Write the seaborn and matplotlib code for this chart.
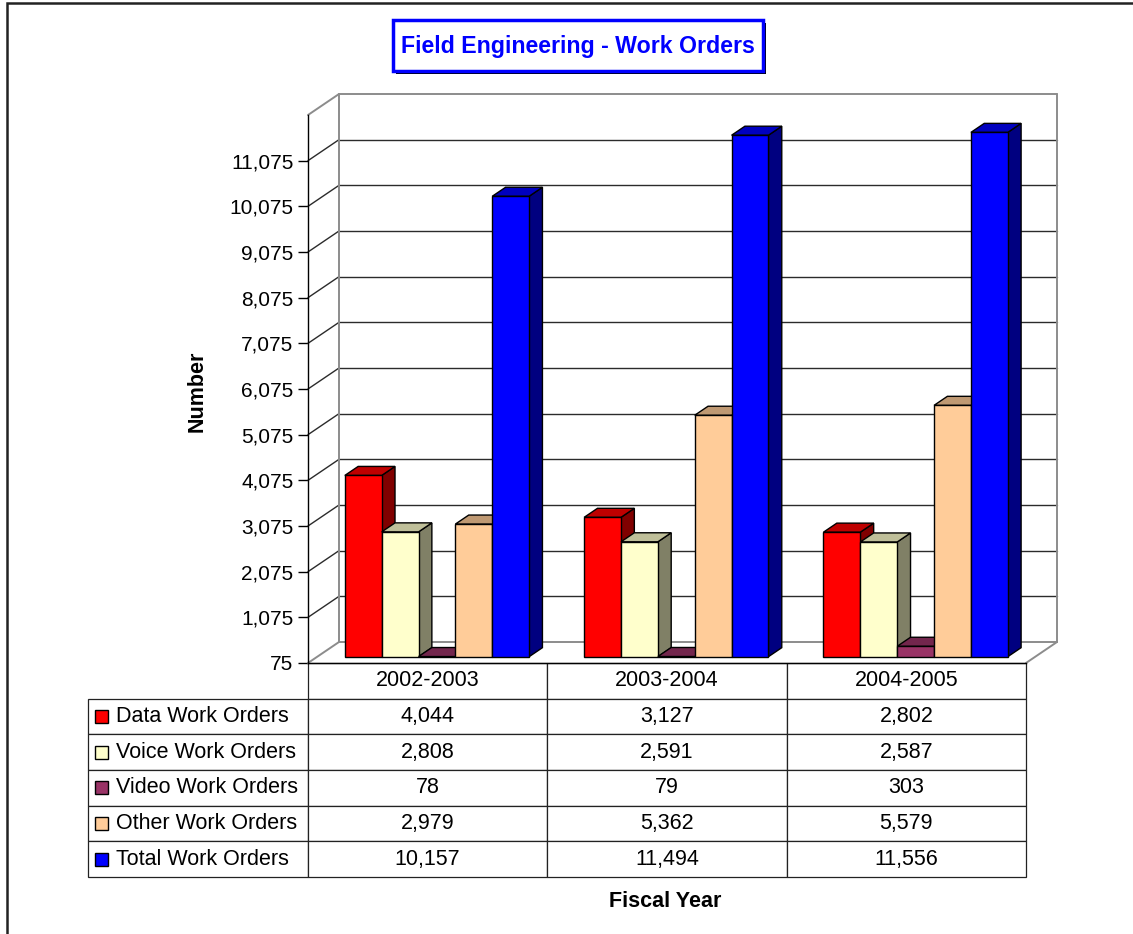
"""Field Engineering work orders: 3D-style bar chart with a data table underneath."""
import matplotlib

matplotlib.use("Agg")
import matplotlib.pyplot as plt
import pandas as pd
import seaborn as sns
from matplotlib.colors import to_rgb
from matplotlib.patches import Polygon, Rectangle
from matplotlib.table import Table

sns.set_theme(style="white")
plt.rcParams["font.family"] = ["Liberation Sans", "DejaVu Sans"]
plt.rcParams["text.color"] = "black"

# --------------------------------------------------------------------------
# data
# --------------------------------------------------------------------------
years = ["2002-2003", "2003-2004", "2004-2005"]
series = [
    "Data Work Orders", "Voice Work Orders", "Video Work Orders",
    "Other Work Orders", "Total Work Orders",
]
data_orders = [4044, 3127, 2802]
voice_orders = [2808, 2591, 2587]
video_orders = [78, 79, 303]
other_orders = [2979, 5362, 5579]
total_orders = [10157, 11494, 11556]
y_ticks = [75, 1075, 2075, 3075, 4075, 5075, 6075, 7075, 8075, 9075, 10075, 11075]
y_min, y_max = 75, 12075

colors = ["#FF0000", "#FFFFCC", "#993366", "#FFCC99", "#0000FF"]

rows = [data_orders, voice_orders, video_orders, other_orders, total_orders]
df = pd.DataFrame(
    [(yr, name, vals[k]) for name, vals in zip(series, rows) for k, yr in enumerate(years)],
    columns=["Fiscal Year", "Series", "Number"],
)

# --------------------------------------------------------------------------
# layout (pixels on a 1133 x 934 canvas)
# --------------------------------------------------------------------------
W, H = 1133, 934
AX_L, AX_R, AX_T, AX_B = 308, 1026, 115, 663
DEPTH_X, DEPTH_Y = 31, 21          # wall depth in pixels
F0, F1 = 0.30, 0.73                # bar front / back as a fraction of depth


def shade(c, f):
    return tuple(v * f for v in to_rgb(c))


fig = plt.figure(figsize=(W / 100, H / 100), dpi=100)
fig.patch.set_facecolor("white")
ax = fig.add_axes([AX_L / W, (H - AX_B) / H, (AX_R - AX_L) / W, (AX_B - AX_T) / H])
ax.set_facecolor("none")

sns.barplot(
    data=df, x="Fiscal Year", y="Number", hue="Series", order=years,
    hue_order=series, palette=dict(zip(series, colors)), saturation=1,
    width=0.77, errorbar=None, edgecolor="black", linewidth=1, legend=False, ax=ax,
)
bars = sorted(ax.patches, key=lambda p: p.get_x())

ax.set_xlim(-0.5, 2.5)
ax.set_ylim(y_min, y_max)

# depth offset expressed in data units
ddx = DEPTH_X * (3.0 / (AX_R - AX_L))
ddy = DEPTH_Y * ((y_max - y_min) / (AX_B - AX_T))
x_lo, x_hi = ax.get_xlim()

# --- walls and floor -------------------------------------------------------
wall = dict(color="#8c8c8c", lw=1.4, clip_on=False, zorder=1)
grid = dict(color="#2b2b2b", lw=1.0, clip_on=False, zorder=1)
for t in y_ticks[1:]:
    ax.plot([x_lo + ddx, x_hi + ddx], [t + ddy, t + ddy], **grid)
    ax.plot([x_lo, x_lo + ddx], [t, t + ddy], **grid)
for t in (y_min, y_max):
    ax.plot([x_lo + ddx, x_hi + ddx], [t + ddy, t + ddy], **wall)
    ax.plot([x_lo, x_lo + ddx], [t, t + ddy], **wall)
ax.plot([x_lo + ddx, x_lo + ddx], [y_min + ddy, y_max + ddy], **wall)
ax.plot([x_hi + ddx, x_hi + ddx], [y_min + ddy, y_max + ddy], **wall)
ax.plot([x_hi, x_hi + ddx], [y_min, y_min + ddy], **wall)

# --- bars: move the seaborn front faces and add sides / tops ---------------
for rank, p in enumerate(bars):
    face = p.get_facecolor()
    val = p.get_height()
    x0 = p.get_x() + F0 * ddx
    x1 = x0 + p.get_width()
    y0 = y_min + F0 * ddy
    y1 = val + F0 * ddy
    dx, dy = (F1 - F0) * ddx, (F1 - F0) * ddy
    z = 3 + rank * 0.01
    p.set_x(x0)
    p.set_y(y0)
    p.set_height(val - y_min)
    p.set_zorder(z + 0.005)
    p.set_clip_on(False)
    side = Polygon([(x1, y0), (x1, y1), (x1 + dx, y1 + dy), (x1 + dx, y0 + dy)],
                   closed=True, fc=shade(face, 0.5), ec="black", lw=1,
                   clip_on=False, zorder=z)
    top = Polygon([(x0, y1), (x1, y1), (x1 + dx, y1 + dy), (x0 + dx, y1 + dy)],
                  closed=True, fc=shade(face, 0.75), ec="black", lw=1,
                  clip_on=False, zorder=z + 0.002)
    ax.add_patch(side)
    ax.add_patch(top)

ax.set_xlim(x_lo, x_hi)
ax.set_ylim(y_min, y_max)

# --- axes styling ------------------------------------------------------------
ax.set_yticks(y_ticks)
ax.set_yticklabels([f"{t:,}" for t in y_ticks])
ax.tick_params(axis="y", length=7.5, width=1, pad=3, labelsize=15,
               color="black", labelcolor="black", left=True)
ax.tick_params(axis="x", bottom=False, labelbottom=False)
for side_name in ("top", "right"):
    ax.spines[side_name].set_visible(False)
for side_name in ("left", "bottom"):
    ax.spines[side_name].set_color("black")
    ax.spines[side_name].set_linewidth(1)

ax.set_ylabel("Number", fontsize=15.5, fontweight="bold", color="black")
ax.yaxis.set_label_coords((208 - AX_L) / (AX_R - AX_L), (AX_B - 391) / (AX_B - AX_T))
ax.set_xlabel("Fiscal Year", fontsize=15.5, fontweight="bold", color="black")
ax.xaxis.set_label_coords((665 - AX_L) / (AX_R - AX_L), (AX_B - 891) / (AX_B - AX_T))

# --- data table --------------------------------------------------------------
TB_L, TB_B = 88, 877
col_w = [220, 239.3, 239.3, 239.3]
tbl = Table(ax, bbox=[(TB_L - AX_L) / (AX_R - AX_L), (AX_B - TB_B) / (AX_B - AX_T),
                      (AX_R - TB_L) / (AX_R - AX_L), (TB_B - AX_B) / (AX_B - AX_T)])
corner = tbl.add_cell(0, 0, col_w[0], 1, text="")
corner.visible_edges = ""
for j, yr in enumerate(years):
    tbl.add_cell(0, j + 1, col_w[j + 1], 1, text=yr, loc="center")
for i, (name, vals) in enumerate(zip(series, rows), start=1):
    lab = tbl.add_cell(i, 0, col_w[0], 1, text=name, loc="left")
    lab.PAD = 0.127
    for j, v in enumerate(vals):
        tbl.add_cell(i, j + 1, col_w[j + 1], 1, text=f"{v:,}", loc="center")
tbl.auto_set_font_size(False)
tbl.set_fontsize(15.5)
for cell in tbl.get_celld().values():
    cell.set_edgecolor("#222222")
    cell.set_linewidth(0.9)
    cell.get_text().set_color("black")
ax.add_table(tbl)

row_h = ((TB_B - AX_B) / (AX_B - AX_T)) / 6
for i, c in enumerate(colors):
    yc = -(i + 1.5) * row_h
    ax.add_patch(Rectangle(((95 - AX_L) / (AX_R - AX_L), yc - 6.5 / (AX_B - AX_T)),
                           13 / (AX_R - AX_L), 13 / (AX_B - AX_T),
                           transform=ax.transAxes, fc=c, ec="black", lw=1,
                           clip_on=False, zorder=6))
ax.set_xlim(x_lo, x_hi)
ax.set_ylim(y_min, y_max)

# --- title box and outer frame ----------------------------------------------
fig.patches.append(Rectangle((396 / W, 1 - 74 / H), 370 / W, 51 / H,
                             transform=fig.transFigure, fc="black", ec="none", zorder=1))
fig.patches.append(Rectangle((393 / W, 1 - 71 / H), 370 / W, 51 / H,
                             transform=fig.transFigure, fc="white", ec="#0000FF",
                             lw=2.5, zorder=2))
fig.text(578 / W, 1 - 46 / H, "Field Engineering - Work Orders", ha="center",
         va="center", fontsize=16.7, fontweight="bold", color="#0000FF", zorder=3)
fig.patches.append(Rectangle((7 / W, -0.05), 1.1, 1 - 3 / H + 0.05,
                             transform=fig.transFigure, fill=False, ec="#222222",
                             lw=1.8, zorder=0))

fig.savefig("out.png", dpi=100)
